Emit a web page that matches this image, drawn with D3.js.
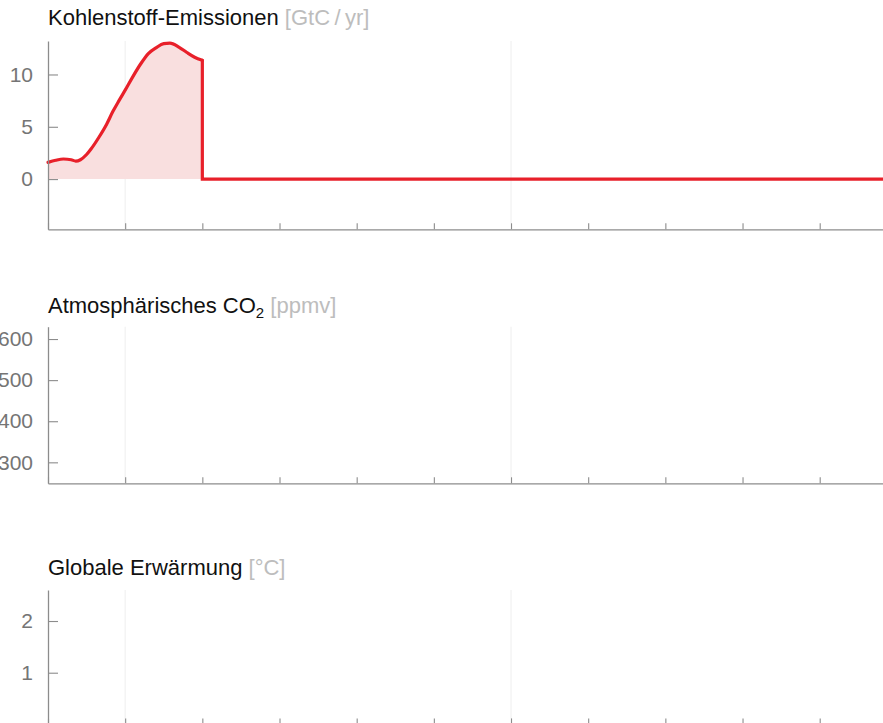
<!DOCTYPE html>
<html>
<head>
<meta charset="utf-8">
<script src="https://cdn.jsdelivr.net/npm/d3@7"></script>
<style>
  html, body { margin: 0; padding: 0; background: #fff; }
  svg { display: block; font-family: "Liberation Sans", Arial, Helvetica, sans-serif; }
</style>
</head>
<body>
<svg id="chart" width="883" height="723"></svg>
<script>
// Emission pathway: historical rise and peak, up to the abrupt stop in 2050
const emissionYears  = [1950, 1955, 1960, 1965, 1968, 1971, 1975, 1978, 1983, 1988, 1992, 1996, 2000, 2005, 2010, 2015, 2020, 2025, 2029, 2035, 2040, 2045, 2050];
const emissionValues = [1.6, 1.8, 1.92, 1.85, 1.72, 1.85, 2.35, 2.9, 4.0, 5.25, 6.45, 7.5, 8.5, 9.8, 11.0, 12.0, 12.55, 12.95, 13.0, 12.6, 12.1, 11.65, 11.35];
// after the stop: zero emissions
const zeroYears  = [2050, 2500];
const zeroValues = [0, 0];

// Panel titles, units and y ticks
const panelTitles = ["Kohlenstoff-Emissionen", "Atmosphärisches CO", "Globale Erwärmung"];
const panelSubscripts = ["", "2", ""];
const panelUnits = ["[GtC\u2009/\u2009yr]", "[ppmv]", "[°C]"];
const panelDomains = [[-4.8, 13.2], [249, 630], [0, 2.6]];
const panelTicks = [[0, 5, 10], [300, 400, 500, 600], [1, 2]];

// Shared time axis
const yearDomain = [1950, 2500];
const yearTicks = d3.range(1950, 2501, 50);
const gridYears = [2000, 2250];

const svg = d3.select("#chart");
const left = 48;
const x = d3.scaleLinear().domain(yearDomain).range([left, left + 550 * 1.5434]);

// vertical extent of each panel's plotting area [top, bottom], and title baseline
const panelLayout = [
  { top: 41, bottom: 229.3, title: 25 },
  { top: 326.7, bottom: 483.3, title: 313 },
  { top: 590, bottom: 724.4, title: 575 }
];

const axisColor = "#8c8c8c";

panelLayout.forEach((p, i) => {
  const y = d3.scaleLinear().domain(panelDomains[i]).range([p.bottom, p.top]);
  const g = svg.append("g");

  // faint vertical grid lines
  g.selectAll("line.grid").data(gridYears).join("line")
    .attr("class", "grid")
    .attr("x1", d => x(d)).attr("x2", d => x(d))
    .attr("y1", p.top).attr("y2", p.bottom)
    .attr("stroke", "#eeeeee").attr("stroke-width", 1);

  // title with optional subscript and grey unit
  const t = g.append("text")
    .attr("x", left).attr("y", p.title)
    .attr("font-size", 22).attr("fill", "#111");
  t.append("tspan").text(panelTitles[i]);
  if (panelSubscripts[i]) {
    t.append("tspan").attr("font-size", 15).attr("dy", 5).text(panelSubscripts[i]);
    t.append("tspan").attr("dy", -5).text(" ");
  } else {
    t.append("tspan").text(" ");
  }
  t.append("tspan").attr("fill", "#bdbdbd").text(panelUnits[i]);

  // data for the emissions panel
  if (i === 0) {
    const pts = emissionYears.map((yr, k) => [yr, emissionValues[k]]);
    const last = pts[pts.length - 1];
    const tail = [last].concat(zeroYears.map((yr, k) => [yr, zeroValues[k]]));
    g.append("path")
      .datum(pts)
      .attr("fill", "#f9dfdf")
      .attr("d", d3.area().curve(d3.curveMonotoneX).x(d => x(d[0])).y0(y(0)).y1(d => y(d[1])));
    g.append("path")
      .datum(pts)
      .attr("fill", "none")
      .attr("stroke", "#e8202a")
      .attr("stroke-width", 3.2)
      .attr("stroke-linecap", "round")
      .attr("d", d3.line().curve(d3.curveMonotoneX).x(d => x(d[0])).y(d => y(d[1])));
    g.append("path")
      .datum(tail)
      .attr("fill", "none")
      .attr("stroke", "#e8202a")
      .attr("stroke-width", 3.2)
      .attr("stroke-linecap", "round")
      .attr("stroke-linejoin", "miter")
      .attr("d", d3.line().x(d => x(d[0])).y(d => y(d[1])));
  }

  // y axis: inward ticks, labels on the left
  const ya = g.append("g")
    .attr("transform", `translate(${left},0)`)
    .call(d3.axisLeft(y).tickValues(panelTicks[i]).tickSize(-10).tickSizeOuter(0).tickPadding(15).tickFormat(d3.format("d")));
  ya.select(".domain").attr("stroke", axisColor).attr("stroke-width", 1.3);
  ya.selectAll(".tick line").attr("stroke", axisColor).attr("stroke-width", 1.1);
  ya.selectAll(".tick text").attr("fill", "#757575").attr("font-size", 21)
    .attr("font-family", "Liberation Sans, Arial, sans-serif");

  // x axis: short upward ticks, no labels
  const xa = g.append("g")
    .attr("transform", `translate(0,${p.bottom})`)
    .call(d3.axisBottom(x).tickValues(yearTicks).tickSize(-6).tickSizeOuter(0).tickFormat(""));
  xa.select(".domain").attr("stroke", axisColor).attr("stroke-width", 1.3);
  xa.selectAll(".tick line").attr("stroke", axisColor).attr("stroke-width", 1.1);
});
</script>
</body>
</html>
